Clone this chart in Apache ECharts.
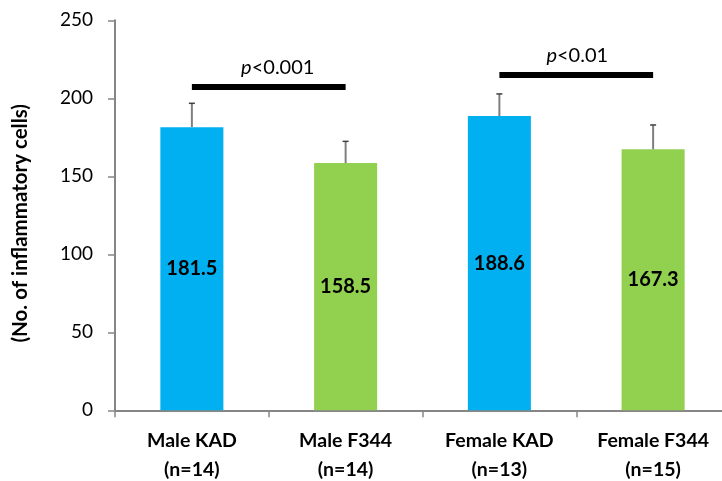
<!DOCTYPE html>
<html>
<head>
<meta charset="utf-8">
<script src="https://cdn.jsdelivr.net/npm/echarts@6/dist/echarts.min.js"></script>
<style>
  html, body { margin: 0; padding: 0; background: #fff; }
  #chart { width: 722px; height: 481px; }
</style>
</head>
<body>
<div id="chart"></div>
<script>
// Groups, means and standard deviations of inflammatory cell counts
const groups = ['Male KAD\n(n=14)', 'Male F344\n(n=14)', 'Female KAD\n(n=13)', 'Female F344\n(n=15)'];
const means = [181.5, 158.5, 188.6, 167.3];
const sds = [15.3, 13.9, 14.2, 15.6];
const barColors = ['#00B0F0', '#92D050', '#00B0F0', '#92D050'];
const yTicks = [0, 50, 100, 150, 200, 250];

// Significance brackets: [from group, to group, height, italic part, rest, label shift]
const sigPairs = [
  [0, 1, 207.3, 'p', '<0.001', 9],
  [2, 3, 215.0, 'p', '<0.01', 1]
];

const FONT = 'Lato, "Liberation Sans", sans-serif';

const chart = echarts.init(document.getElementById('chart'), null, { renderer: 'canvas' });

const barData = means.map((v, i) => ({ value: v, itemStyle: { color: barColors[i] } }));
const errData = means.map((v, i) => [i, v, sds[i]]);

const markLines = sigPairs.map(p => ([
  {
    coord: [groups[p[0]], p[2]],
    label: {
      show: true,
      position: 'middle',
      distance: 9,
      offset: [p[5], 0],
      formatter: '{i|' + p[3] + '}{n|' + p[4] + '}',
      rich: {
        i: { fontStyle: 'italic', fontFamily: FONT, fontSize: 20, color: '#000' },
        n: { fontFamily: FONT, fontSize: 20, color: '#000' }
      }
    }
  },
  { coord: [groups[p[1]], p[2]] }
]));

chart.setOption({
  animation: false,
  backgroundColor: '#fff',
  grid: { left: 115, right: -8, top: 20.3, bottom: 70.7, outerBoundsMode: 'none', containLabel: false },
  xAxis: {
    type: 'category',
    data: groups,
    axisLine: { lineStyle: { color: '#868686', width: 2 } },
    axisTick: { show: true, length: 7, lineStyle: { color: '#868686', width: 1.5 } },
    axisLabel: {
      margin: 16,
      color: '#000',
      fontFamily: FONT,
      fontWeight: 'bold',
      fontSize: 19.5,
      lineHeight: 29
    }
  },
  yAxis: {
    type: 'value',
    min: 0,
    max: 250,
    interval: 50,
    name: '(No. of inflammatory cells)',
    nameLocation: 'middle',
    nameGap: 84,
    nameRotate: 90,
    nameTextStyle: {
      color: '#000', fontFamily: FONT, fontWeight: 'bold', fontSize: 20.5,
      padding: [0, 16, 0, 0]
    },
    axisLine: { show: true, lineStyle: { color: '#868686', width: 2 } },
    axisTick: { show: true, length: 7, lineStyle: { color: '#868686', width: 1.5 } },
    splitLine: { show: false },
    axisLabel: {
      margin: 22,
      color: '#000',
      fontFamily: FONT,
      fontSize: 19,
      formatter: v => (yTicks.indexOf(v) >= 0 ? String(v) : '')
    }
  },
  series: [
    {
      type: 'bar',
      data: barData,
      barWidth: '41%',
      label: {
        show: true,
        position: 'inside',
        color: '#000',
        fontFamily: FONT,
        fontWeight: 'bold',
        fontSize: 20,
        formatter: p => p.value.toFixed(1)
      },
      markLine: {
        silent: true,
        symbol: ['none', 'none'],
        lineStyle: { color: '#000', width: 6, type: 'solid', cap: 'butt' },
        emphasis: { disabled: true },
        data: markLines
      }
    },
    {
      type: 'custom',
      z: 5,
      data: errData,
      renderItem: (params, api) => {
        const idx = api.value(0);
        const mean = api.value(1);
        const sd = api.value(2);
        const base = api.coord([idx, mean]);
        const top = api.coord([idx, mean + sd]);
        const capHalf = 3;
        return {
          type: 'group',
          children: [
            {
              type: 'line',
              shape: { x1: base[0], y1: base[1], x2: top[0], y2: top[1] },
              style: { stroke: '#7f7f7f', lineWidth: 2 }
            },
            {
              type: 'line',
              shape: { x1: top[0] - capHalf, y1: top[1], x2: top[0] + capHalf, y2: top[1] },
              style: { stroke: '#404040', lineWidth: 1.5 }
            }
          ]
        };
      }
    }
  ]
});
</script>
</body>
</html>
